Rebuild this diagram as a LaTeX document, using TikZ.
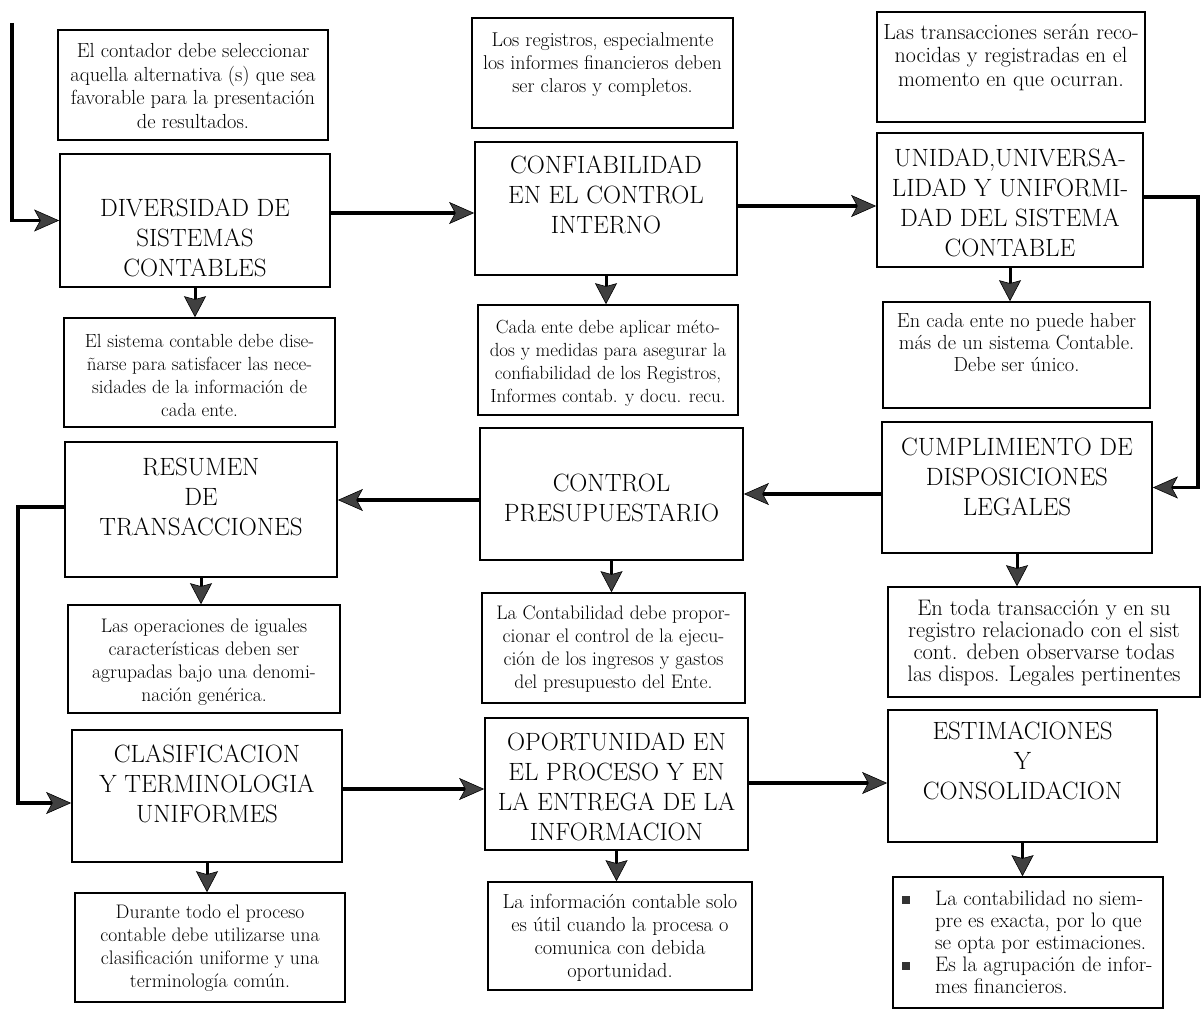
\documentclass[tikz,border=0pt]{standalone}
\usepackage{fontspec}
\usetikzlibrary{arrows.meta}
% bullet and indent for the last list box
\newcommand\bulsq{\makebox[33pt][l]{\textcolor{black!80}{\rule[1pt]{8pt}{8pt}}}}
\newcommand\bulind{\hspace*{33pt}}
\begin{document}
\begin{tikzpicture}[x=1pt,y=-1pt,
  mainbox/.style={draw=black,line width=1.8pt,fill=white,inner sep=0pt},
  notebox/.style={draw=black,line width=1.6pt,fill=white,inner sep=0pt},
  title/.style={align=center,font=\fontsize{25}{30}\selectfont,inner sep=0pt},
  notetext/.style={align=center,font=\fontsize{19.6}{23}\selectfont,inner sep=0pt},
  conn/.style={draw=black,line width=3.2pt,
    -{Stealth[length=25pt,width=22pt,inset=6pt,line width=0.6pt,fill=black!75]}},
  drop/.style={draw=black,line width=3pt,
    -{Stealth[length=21pt,width=22pt,inset=3pt,line width=0.6pt,fill=black!75]}}]

\fill[white] (0,0) rectangle (1203,1011);
\useasboundingbox (0,0) rectangle (1203,1011);

% ---------- main boxes ----------
\node[mainbox,minimum width=270pt,minimum height=133pt] (m1) at (195,220.5) {};
\node[title] (m1t) at (195,238) {DIVERSIDAD DE\\SISTEMAS\\CONTABLES};
\node[mainbox,minimum width=262pt,minimum height=133pt] (m2) at (606,208.5) {};
\node[title] (m2t) at (606,195) {CONFIABILIDAD\\EN EL CONTROL\\INTERNO};
\node[mainbox,minimum width=266pt,minimum height=134pt] (m3) at (1010,200) {};
\node[title] (m3t) at (1010,203) {UNIDAD,UNIVERSA-\\LIDAD Y UNIFORMI-\\DAD DEL SISTEMA\\CONTABLE};

\node[mainbox,minimum width=272pt,minimum height=135pt] (m4) at (201,509.5) {};
\node[title] (m4t) at (201,497) {RESUMEN\\DE\\TRANSACCIONES};
\node[mainbox,minimum width=263pt,minimum height=132pt] (m5) at (611.5,494) {};
\node[title] (m5t) at (611.5,498) {CONTROL\\PRESUPUESTARIO};
\node[mainbox,minimum width=270pt,minimum height=131pt] (m6) at (1017,487.5) {};
\node[title] (m6t) at (1017,477) {CUMPLIMIENTO DE\\DISPOSICIONES\\LEGALES};

\node[mainbox,minimum width=270pt,minimum height=132pt] (m7) at (207,796) {};
\node[title] (m7t) at (207,784) {CLASIFICACION\\Y TERMINOLOGIA\\UNIFORMES};
\node[mainbox,minimum width=263pt,minimum height=132pt] (m8) at (616.5,784) {};
\node[title] (m8t) at (616.5,787) {OPORTUNIDAD EN\\EL PROCESO Y EN\\LA ENTREGA DE LA\\INFORMACION};
\node[mainbox,minimum width=269pt,minimum height=132pt] (m9) at (1022.5,776) {};
\node[title] (m9t) at (1022.5,761) {ESTIMACIONES\\Y\\CONSOLIDACION};

% ---------- note boxes ----------
\node[notebox,minimum width=270pt,minimum height=110pt] (n1a) at (193,85) {};
\node[notetext,font=\fontsize{20.4}{23.5}\selectfont] (n1at) at (193,86) {El contador debe seleccionar\\aquella alternativa (s) que sea\\favorable para la presentación\\de resultados.};
\node[notebox,minimum width=271pt,minimum height=109pt] (n1b) at (199.5,372.5) {};
\node[notetext,font=\fontsize{19}{23}\selectfont] (n1bt) at (199.5,375) {El sistema contable debe dise-\\ñarse para satisfacer las nece-\\sidades de la información de\\cada ente.};
\node[notebox,minimum width=272pt,minimum height=108pt] (n1c) at (204,659) {};
\node[notetext] (n1ct) at (204,662) {Las operaciones de iguales\\características deben ser\\agrupadas bajo una denomi-\\nación genérica.};
\node[notebox,minimum width=270pt,minimum height=109pt] (n1d) at (210,947.5) {};
\node[notetext] (n1dt) at (210,948) {Durante todo el proceso\\contable debe utilizarse una\\clasificación uniforme y una\\terminología común.};

\node[notebox,minimum width=261pt,minimum height=110pt] (n2a) at (602.5,73) {};
\node[notetext,font=\fontsize{20}{23}\selectfont] (n2at) at (602.5,65) {Los registros, especialmente\\los informes financieros deben\\ser claros y completos.};
\node[notebox,minimum width=260pt,minimum height=110pt] (n2b) at (608,360) {};
\node[notetext,font=\fontsize{19}{23}\selectfont] (n2bt) at (608,363) {Cada ente debe aplicar méto-\\dos y medidas para asegurar la\\confiabilidad de los Registros,\\Informes contab. y docu. recu.};
\node[notebox,minimum width=263pt,minimum height=110pt] (n2c) at (613.5,648) {};
\node[notetext] (n2ct) at (613.5,649) {La Contabilidad debe propor-\\cionar el control de la ejecu-\\ción de los ingresos y gastos\\del presupuesto del Ente.};
\node[notebox,minimum width=264pt,minimum height=108pt] (n2d) at (620,936) {};
\node[notetext,font=\fontsize{20.4}{23}\selectfont] (n2dt) at (620,938) {La información contable solo\\es útil cuando la procesa o\\comunica con debida\\oportunidad.};

\node[notebox,minimum width=268pt,minimum height=110pt] (n3a) at (1011,67) {};
\node[notetext,font=\fontsize{22}{23.5}\selectfont] (n3at) at (1011,57) {Las transacciones serán reco-\\nocidas y registradas en el\\momento en que ocurran.};
\node[notebox,minimum width=267pt,minimum height=106pt] (n3b) at (1016.5,355) {};
\node[notetext,font=\fontsize{20.4}{22}\selectfont] (n3bt) at (1016.5,343) {En cada ente no puede haber\\más de un sistema Contable.\\Debe ser único.};
\node[notebox,minimum width=312pt,minimum height=110pt] (n3c) at (1044,642) {};
\node[notetext,font=\fontsize{22.5}{22}\selectfont] (n3ct) at (1044,643) {En toda transacción y en su\\registro relacionado con el sist\\cont. deben observarse todas\\las dispos. Legales pertinentes};
\node[notebox,minimum width=270pt,minimum height=131pt] (n3d) at (1028,942.5) {};
\node[notetext,align=left,anchor=west,font=\fontsize{21}{22}\selectfont] (n3dt) at (902,942) {\bulsq La contabilidad no siem-\\\bulind pre es exacta, por lo que\\\bulind se opta por estimaciones.\\\bulsq Es la agrupación de infor-\\\bulind mes financieros.};

% ---------- flow between the principles ----------
\coordinate (start) at (12,23);
\draw[conn] (start) |- (m1.west);

\coordinate (r1) at (0,213);
\draw[conn] (m1.east |- r1) -- (m2.west |- r1);
\coordinate (r2) at (0,206);
\draw[conn] (m2.east |- r2) -- (m3.west |- r2);

\coordinate (r3) at (1198,197);
\draw[conn] (m3.east |- r3) -- (r3) |- (m6.east);

\coordinate (r4) at (0,494);
\draw[conn] (m6.west |- r4) -- (m5.east |- r4);
\coordinate (r5) at (0,500);
\draw[conn] (m5.west |- r5) -- (m4.east |- r5);

\coordinate (r6) at (18,507);
\coordinate (r7) at (18,803);
\draw[conn] (m4.west |- r6) -- (r6) -- (r7) -- (m7.west |- r7);

\coordinate (r8) at (0,789);
\draw[conn] (m7.east |- r8) -- (m8.west |- r8);
\coordinate (r9) at (0,783);
\draw[conn] (m8.east |- r9) -- (m9.west |- r9);

% ---------- each principle points to its description ----------
\foreach \a/\b in {m1/n1b,m2/n2b,m3/n3b,m4/n1c,m5/n2c,m6/n3c,m7/n1d,m8/n2d,m9/n3d}
  \draw[drop] (\a.south) -- (\a.south |- \b.north);
\end{tikzpicture}
\end{document}
